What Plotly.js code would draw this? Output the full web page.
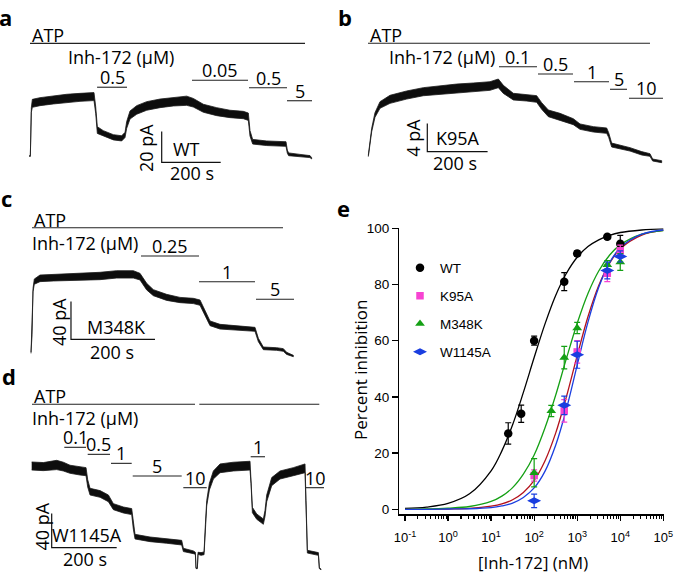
<!DOCTYPE html>
<html>
<head>
<meta charset="utf-8">
<script src="https://cdn.plot.ly/plotly-3.0.1.min.js"></script>
<style>
  html, body { margin: 0; padding: 0; background: #fff; }
  #fig { width: 675px; height: 574px; }
</style>
</head>
<body>
<div id="fig"></div>
<script>
// ---------------- Panel a: WT current (time in s, current in pA) ----------------
const aTime    = [0, 3.5, 6.9, 10.3, 36.3, 81.5, 126.7, 171.9, 219.3, 225, 230.6, 251, 284.9, 313.1, 324.4, 330.1, 341.4, 364, 397.9, 443.1, 488.2, 533.5, 556, 590, 635.1, 680.3, 725.5, 742.5, 748.1, 757.2, 804.6, 870.2, 874.7, 879.2, 917.6, 951.5, 957.2];
const aCurrent = [0, 0, 30.0, 34.3, 35.4, 36.5, 37.6, 38.2, 38.7, 30.0, 16.9, 14.8, 12.2, 11.5, 13.7, 20.2, 26.7, 30.0, 32.6, 34.3, 35.4, 36.0, 34.7, 31.1, 28.9, 27.4, 26.7, 25.6, 14.8, 9.3, 8.3, 7.8, 2.8, 1.1, 0.4, -0.4, -1.5];
const aNoise   = [0.3, 0.3, 1.5, 2.6, 2.6, 2.6, 2.6, 2.6, 2.6, 2.2, 2.2, 1.7, 1.7, 1.7, 1.7, 2.2, 2.6, 2.8, 2.8, 2.8, 2.8, 3.0, 2.8, 2.6, 2.6, 2.4, 2.4, 2.4, 1.8, 1.5, 1.5, 1.5, 1.0, 0.9, 0.65, 0.65, 0.4];
const aDrug    = ['0.5', '0.05', '0.5', '5'];
const aDrugOn  = [229.8, 551.5, 744.7, 873.6];
const aDrugOff = [331.2, 741.4, 873.6, 958.3];
const aAtpOn   = [2.4];
const aAtpOff  = [934.6];

// ---------------- Panel b: K95A ----------------
const bTime    = [0, 3.4, 11.2, 22.2, 38.8, 72, 127.3, 182.5, 237.8, 293.1, 348.4, 403.6, 431.3, 447.9, 481, 525.3, 558.4, 575, 597.1, 635.8, 680, 702.2, 746.4, 790.6, 797.2, 807.2, 845.9, 868, 906.7, 934.3, 943.2, 973];
const bCurrent = [0, 1.32, 3.67, 5.80, 7.21, 8.01, 8.62, 9.09, 9.33, 9.56, 9.71, 9.89, 10.27, 9.42, 8.39, 8.24, 8.06, 7.07, 6.03, 5.56, 4.85, 4.15, 3.77, 3.58, 2.97, 1.55, 1.18, 0.94, 0.38, 0.14, -0.57, -0.80];
const bNoise   = [0.09, 0.14, 0.24, 0.33, 0.47, 0.57, 0.57, 0.57, 0.61, 0.61, 0.61, 0.61, 0.61, 0.57, 0.47, 0.47, 0.47, 0.47, 0.47, 0.47, 0.42, 0.38, 0.38, 0.38, 0.33, 0.28, 0.28, 0.24, 0.24, 0.19, 0.14, 0.14];
const bDrug    = ['0.1', '0.5', '1', '5', '10'];
const bDrugOn  = [433.5, 562.8, 682.3, 801.7, 864.7];
const bDrugOff = [559.5, 678.9, 798.4, 858.1, 977.4];
const bAtpOn   = [-1];
const bAtpOff  = [934.3];

// ---------------- Panel c: M348K ----------------
const cTime    = [0, 2.4, 4.8, 7.9, 21.4, 53.2, 84.9, 124.6, 164.3, 204, 243.7, 259.5, 275.4, 291.3, 323, 354.8, 386.5, 402.4, 411.9, 426.2, 450, 497.6, 533.3, 541.3, 553.2, 584.9, 600.8, 608.7, 624.6];
const cCurrent = [0, 17.0, 66.5, 75.4, 78.9, 79.6, 80.0, 80.7, 81.4, 83.1, 83.1, 80.7, 70.1, 63.7, 58.7, 55.9, 54.9, 53.1, 43.5, 31.2, 27.6, 25.9, 24.8, 13.5, 4.6, 3.9, 2.9, -0.7, -3.5];
const cNoise   = [0.7, 0.7, 1.8, 2.8, 3.5, 3.5, 3.5, 3.5, 3.9, 3.9, 3.9, 3.5, 3.5, 3.2, 3.2, 2.8, 2.8, 2.8, 2.8, 2.5, 2.5, 2.5, 2.1, 1.8, 1.4, 1.4, 1.4, 1.1, 0.7];
const cDrug    = ['0.25', '1', '5'];
const cDrugOn  = [261.9, 400, 535.7];
const cDrugOff = [400, 533.3, 626.2];
const cAtpOn   = [2.4];
const cAtpOff  = [600];

// ---------------- Panel d: W1145A ----------------
const dTime    = [0, 35.9, 76.9, 97.4, 117.9, 148.7, 167.2, 172.3, 179.5, 210.3, 235.9, 251.3, 282.1, 307.7, 312.8, 317.9, 364.1, 415.4, 461.5, 466.7, 497.4, 503.6, 505.6, 509.7, 511.8, 521, 530.3, 534.4, 538.5, 546.7, 559, 579.5, 620.5, 671.8, 674.9, 679, 692.3, 712.8, 717.9, 723.1, 738.5, 764.1, 805.1, 841, 844.1, 848.2, 882.1, 885.1, 890.3];
const dCurrent = [119.3, 118.6, 120.5, 118.6, 115.5, 113.5, 112.7, 99.1, 89.4, 86.7, 81.6, 71.9, 68.0, 66.1, 48.6, 36.9, 33.8, 31.9, 29.9, 21.4, 18.7, 17.5, 0, 0, 17.5, 16.7, 17.5, 48.6, 75.8, 95.2, 108.8, 116.6, 118.6, 119.7, 103.0, 68.0, 60.3, 54.4, 64.1, 81.6, 101.1, 108.8, 112.7, 116.6, 75.8, 19.4, 16.7, 0, -1.2];
const dNoise   = [4.7, 4.7, 5.4, 5.1, 4.7, 4.7, 4.7, 4.3, 3.9, 3.9, 3.9, 3.5, 3.5, 3.5, 3.1, 2.7, 2.7, 2.7, 2.7, 1.9, 1.6, 1.2, 0.4, 0.4, 1.2, 1.6, 1.6, 2.3, 3.1, 3.9, 4.7, 5.1, 5.1, 5.1, 4.3, 3.1, 3.1, 3.1, 3.5, 3.9, 4.7, 4.7, 4.7, 5.1, 3.1, 1.6, 1.6, 0.4, 0.4];
const dDrug    = ['0.1', '0.5', '1', '5', '10', '1', '10'];
const dDrugOn  = [100.3, 172.3, 244, 310.8, 466.5, 673.8, 844];
const dDrugOff = [167.1, 240.9, 307.7, 461.5, 538.5, 717.8, 899.4];
const dAtpOn   = [0.9, 515.7];
const dAtpOff  = [502.5, 884.9];

// ---------------- Panel e: concentration–inhibition ----------------
const wtConc     = [25, 50, 100, 500, 1000, 5000, 10000];
const wtInh      = [27, 34, 60, 81, 91, 97, 94.5];
const wtErr      = [3.8, 3.1, 1.6, 3.2, 1.0, 0.8, 3.0];
const k95aConc   = [100, 500, 1000, 5000, 10000];
const k95aInh    = [12, 35, 56, 84, 92];
const k95aErr    = [2, 4, 4, 3, 2];
const m348kConc  = [100, 250, 500, 1000, 5000, 10000];
const m348kInh   = [13, 35, 54, 64.5, 87, 88];
const m348kErr   = [5, 2, 4, 2, 1.5, 3];
const w1145aConc = [100, 500, 1000, 5000, 10000];
const w1145aInh  = [3, 37, 55, 85, 90];
const w1145aErr  = [2.4, 3.3, 4.8, 3, 2];

// fitted curves, sampled along the concentration axis (nM)
const fitConc   = [0.1, 0.316, 1, 3.16, 10, 17.8, 31.6, 56.2, 100, 178, 316, 562, 1000, 1778, 3162, 5623, 10000, 31623, 100000];
const wtFit     = [0.3, 0.8, 2.1, 5.5, 13.7, 20.8, 30.1, 41.6, 54.0, 65.9, 76.1, 84.0, 89.7, 93.5, 95.9, 97.5, 98.5, 99.4, 99.8];
const k95aFit   = [0.0, 0.0, 0.1, 0.3, 1.1, 1.9, 3.4, 6.0, 10.3, 17.2, 27.1, 40.1, 54.7, 68.5, 79.6, 87.5, 92.7, 97.6, 99.3];
const m348kFit  = [0.0, 0.1, 0.4, 1.0, 2.8, 4.7, 7.7, 12.5, 19.3, 28.9, 40.6, 53.7, 66.2, 76.8, 84.8, 90.4, 94.1, 97.9, 99.2];
const w1145aFit = [0.0, 0.0, 0.1, 0.2, 0.6, 1.2, 2.2, 4.2, 7.6, 13.5, 22.8, 35.7, 51.3, 66.6, 79.0, 87.7, 93.1, 97.9, 99.4];

const eTickVals = [0.1, 1, 10, 100, 1000, 10000, 100000];
const eTickText = ['10<sup>-1</sup>', '10<sup>0</sup>', '10<sup>1</sup>', '10<sup>2</sup>', '10<sup>3</sup>', '10<sup>4</sup>', '10<sup>5</sup>'];

// ======================= layout helpers =======================
const W = 675, H = 574;
const SANS = 'Open Sans, sans-serif';
const ARIAL = 'Liberation Sans, Arial, sans-serif';

// Each recording panel: pixel box [left, right, top, bottom], pixel of (t=0, I=0), px per s / px per pA
function frame(box, origin, scale) {
  return {
    x: { domain: [box[0] / W, box[1] / W],
         range: [(box[0] - origin[0]) / scale[0], (box[1] - origin[0]) / scale[0]] },
    y: { domain: [1 - box[3] / H, 1 - box[2] / H],
         range: [(origin[1] - box[3]) / scale[1], (origin[1] - box[2]) / scale[1]] }
  };
}

const panels = [
  { id: '',  f: frame([0, 335, 0, 185],   [29.3, 156],   [0.295, 1.535]),
    t: aTime, cur: aCurrent, noise: aNoise, drug: aDrug, on: aDrugOn, off: aDrugOff, atpOn: aAtpOn, atpOff: aAtpOff,
    barLevel: [44.8, 49.3, 44.5, 36.0], atpLevel: 73.4, inh: [312.5, 64.2],
    scale: { corner: [448.8, -4.1], dt: 200, di: 20 },
    labels: [['20 pA', 398, 5.0, -90], ['WT', 533.6, 4.6, 0], ['200 s', 550.5, -11.3, 0]] },
  { id: '2', f: frame([338, 675, 0, 185], [368.3, 156],  [0.3015, 7.075]),
    t: bTime, cur: bCurrent, noise: bNoise, drug: bDrug, on: bDrugOn, off: bDrugOff, atpOn: bAtpOn, atpOff: bAtpOff,
    barLevel: [12.62, 11.59, 10.50, 9.43, 8.16], atpLevel: 15.93, inh: [242.8, 14.0],
    scale: { corner: [195.7, 0.61], dt: 200, di: 4 },
    labels: [['4 pA', 147.3, 2.54, -90], ['K95A', 297.5, 2.54, 0], ['200 s', 287.5, -0.99, 0]] },
  { id: '3', f: frame([0, 335, 185, 368], [31, 352.7],   [0.42, 0.9425]),
    t: cTime, cur: cCurrent, noise: cNoise, drug: cDrug, on: cDrugOn, off: cDrugOff, atpOn: cAtpOn, atpOff: cAtpOff,
    barLevel: [102.6, 75.3, 56.7], atpLevel: 132.6, inh: [128.6, 116.9],
    scale: { corner: [95.2, 14.2], dt: 200, di: 40 },
    labels: [['40 pA', 65, 32.9, -90], ['M348K', 202.4, 27.6, 0], ['200 s', 192.1, 1.1, 0]] },
  { id: '4', f: frame([0, 335, 368, 574], [31.7, 568.3], [0.325, 0.8575]),
    t: dTime, cur: dCurrent, noise: dNoise, drug: dDrug, on: dDrugOn, off: dDrugOff, atpOn: dAtpOn, atpOff: dAtpOff,
    barLevel: [141.1, 132.9, 122.4, 107.6, 94.0, 130.1, 94.0], atpLevel: 191.3, inh: [164, 175.3],
    scale: { corner: [61.5, 24.0], dt: 200, di: 40 },
    labels: [['40 pA', 30.8, 48.5, -90], ['W1145A', 169.2, 38.8, 0], ['200 s', 164, 10.5, 0]] }
];

const traces = [];
const annotations = [];
const layout = {
  width: W, height: H,
  margin: { l: 0, r: 0, t: 0, b: 0 },
  paper_bgcolor: '#fff', plot_bgcolor: 'rgba(0,0,0,0)',
  font: { family: SANS, color: '#000' },
  showlegend: true,
  legend: {
    x: 400 / W, y: 1 - 252.5 / H, xanchor: 'left', yanchor: 'top',
    font: { family: ARIAL, size: 13.5, color: '#000' },
    bgcolor: 'rgba(0,0,0,0)', tracegroupgap: 7.4, itemwidth: 30
  },
  annotations: annotations
};

panels.forEach(p => {
  const xa = 'x' + p.id, ya = 'y' + p.id;
  layout['xaxis' + p.id] = Object.assign({ visible: false, fixedrange: true, anchor: ya }, p.f.x);
  layout['yaxis' + p.id] = Object.assign({ visible: false, fixedrange: true, anchor: xa }, p.f.y);

  // noisy current drawn as a band between upper and lower envelopes
  const upper = p.cur.map((v, i) => v + p.noise[i]);
  const lower = p.cur.map((v, i) => v - p.noise[i]);
  traces.push({
    type: 'scatter', mode: 'lines', xaxis: xa, yaxis: ya, showlegend: false, hoverinfo: 'skip',
    x: p.t.concat(p.t.slice().reverse()),
    y: upper.concat(lower.slice().reverse()),
    fill: 'toself', fillcolor: '#0d0d0d',
    line: { color: '#1a1a1a', width: 0.8 }
  });

  // ATP and inhibitor application bars
  const bx = [], by = [];
  p.atpOn.forEach((s, i) => { bx.push(s, p.atpOff[i], null); by.push(p.atpLevel, p.atpLevel, null); });
  p.on.forEach((s, i) => { bx.push(s, p.off[i], null); by.push(p.barLevel[i], p.barLevel[i], null); });
  traces.push({ type: 'scatter', mode: 'lines', xaxis: xa, yaxis: ya, showlegend: false, hoverinfo: 'skip',
    x: bx, y: by, line: { color: '#222', width: 1.1 } });

  // scale bar
  const c = p.scale.corner;
  traces.push({ type: 'scatter', mode: 'lines', xaxis: xa, yaxis: ya, showlegend: false, hoverinfo: 'skip',
    x: [c[0], c[0], c[0] + p.scale.dt], y: [c[1] + p.scale.di, c[1], c[1]],
    line: { color: '#111', width: 1.2 } });

  const txt = (text, x, y, extra) => annotations.push(Object.assign({
    text: text, x: x, y: y, xref: xa, yref: ya, showarrow: false,
    xanchor: 'center', yanchor: 'middle', font: { family: SANS, size: 18, color: '#000' }
  }, extra || {}));

  txt('ATP', p.atpOn[0], p.atpLevel, { xanchor: 'left', yshift: 8 });
  txt('Inh-172 (μM)', p.inh[0], p.inh[1]);
  p.drug.forEach((d, i) => txt(d, (p.on[i] + p.off[i]) / 2, p.barLevel[i], { yshift: 10 }));
  p.labels.forEach(l => txt(l[0], l[1], l[2], { textangle: l[3] }));
});

// ---------------- panel e axes ----------------
const minorVals = [];
for (let e = -1; e < 5; e++) for (let k = 2; k <= 9; k++) minorVals.push(k * Math.pow(10, e));

layout.xaxis5 = {
  type: 'log', anchor: 'y5', domain: [399.3 / W, 664 / W], range: [-1.132, 5.016],
  showline: true, linecolor: '#000', linewidth: 1.4, showgrid: false, zeroline: false, fixedrange: true,
  ticks: 'outside', ticklen: 5, tickwidth: 1.3, tickcolor: '#000', ticklabelstandoff: 6,
  tickmode: 'array', tickvals: eTickVals, ticktext: eTickText,
  tickfont: { family: ARIAL, size: 13, color: '#000' },
  minor: { tickmode: 'array', tickvals: minorVals, ticks: 'outside', ticklen: 3, tickwidth: 1.1, tickcolor: '#000', showgrid: false }
};
layout.yaxis5 = {
  anchor: 'x5', domain: [1 - 514.3 / H, 1 - 228.3 / H], range: [-1.78, 100],
  showline: true, linecolor: '#000', linewidth: 1.4, showgrid: false, zeroline: false, fixedrange: true,
  ticks: 'outside', ticklen: 6, tickwidth: 1.3, tickcolor: '#000',
  tickmode: 'linear', tick0: 0, dtick: 20,
  tickfont: { family: ARIAL, size: 13.5, color: '#000' }
};

const series = [
  { name: 'WT',     conc: wtConc,     inh: wtInh,     err: wtErr,     fit: wtFit,     mc: '#000000', lc: '#000000', sym: 'circle',       size: 8.5 },
  { name: 'K95A',   conc: k95aConc,   inh: k95aInh,   err: k95aErr,   fit: k95aFit,   mc: '#f743d2', lc: '#b3121c', sym: 'square',       size: 7.5 },
  { name: 'M348K',  conc: m348kConc,  inh: m348kInh,  err: m348kErr,  fit: m348kFit,  mc: '#14a014', lc: '#14a014', sym: 'triangle-up',  size: 8.5 },
  { name: 'W1145A', conc: w1145aConc, inh: w1145aInh, err: w1145aErr, fit: w1145aFit, mc: '#1a3ee0', lc: '#1a3ee0', sym: 'diamond-wide', size: 10 }
];

series.forEach(s => {
  traces.push({ type: 'scatter', mode: 'lines', xaxis: 'x5', yaxis: 'y5', showlegend: false, hoverinfo: 'skip',
    x: fitConc, y: s.fit, line: { color: s.lc, width: 1.3, shape: 'spline', smoothing: 1 } });
});
series.forEach(s => {
  traces.push({ type: 'scatter', mode: 'markers', xaxis: 'x5', yaxis: 'y5', name: s.name, legendgroup: s.name,
    x: s.conc, y: s.inh, cliponaxis: false,
    marker: { symbol: s.sym, size: s.size, color: s.mc, line: { width: 0 } },
    error_y: { type: 'data', array: s.err, visible: true, color: s.mc, thickness: 1.2, width: 3 } });
});

// axis titles of panel e
annotations.push({ text: 'Percent inhibition', xref: 'paper', yref: 'paper', x: 360 / W, y: 1 - 370 / H,
  textangle: -90, showarrow: false, xanchor: 'center', yanchor: 'middle', font: { family: SANS, size: 17, color: '#000' } });
annotations.push({ text: '[Inh-172] (nM)', xref: 'paper', yref: 'paper', x: 533.3 / W, y: 1 - 562.5 / H,
  showarrow: false, xanchor: 'center', yanchor: 'middle', font: { family: SANS, size: 16.8, color: '#000' } });

// panel letters
[['a', 5, 16.7], ['b', 345, 16.7], ['c', 6, 197.7], ['d', 9, 376], ['e', 343.5, 207.7]].forEach(l => {
  annotations.push({ text: '<b>' + l[0] + '</b>', xref: 'paper', yref: 'paper', x: l[1] / W, y: 1 - l[2] / H,
    showarrow: false, xanchor: 'center', yanchor: 'middle', font: { family: SANS, size: 22, color: '#000' } });
});

Plotly.newPlot('fig', traces, layout, { staticPlot: true, displayModeBar: false });
</script>
</body>
</html>
